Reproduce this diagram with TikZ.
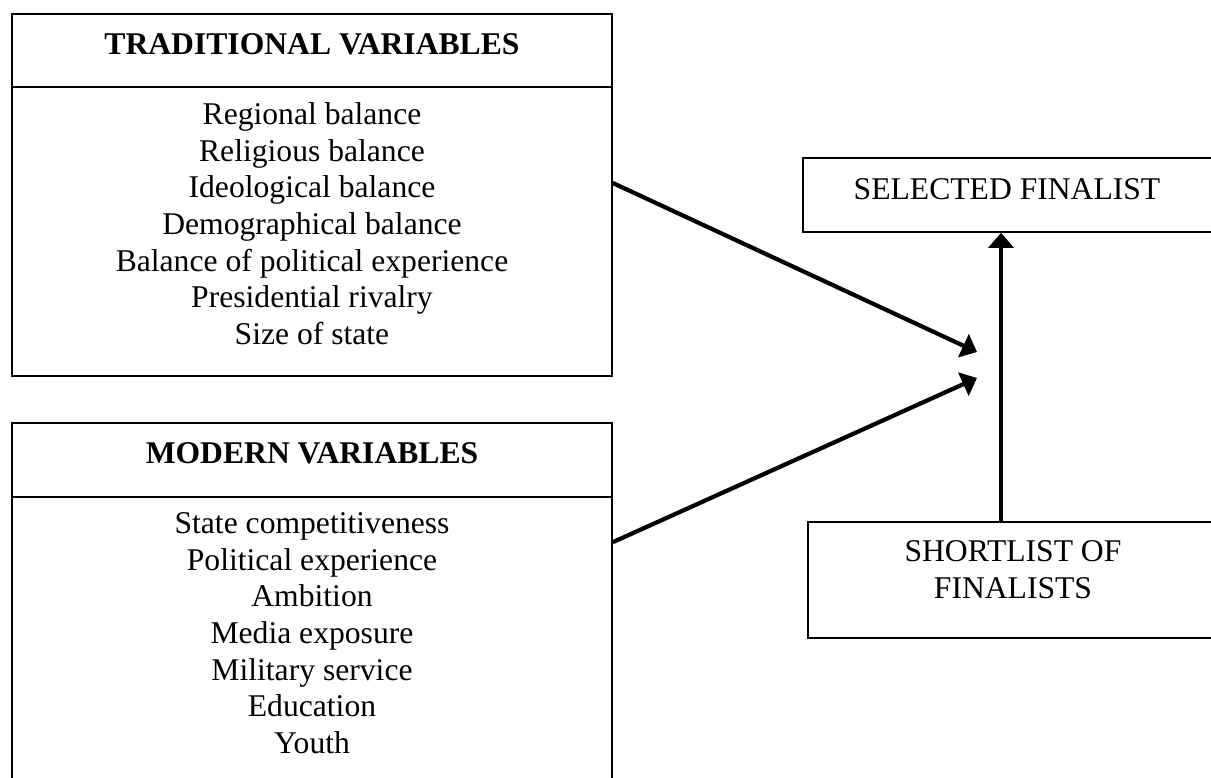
\documentclass[tikz,border=0pt]{standalone}
\usepackage{fontspec}
\setmainfont{Liberation Serif}
\usetikzlibrary{arrows.meta,calc}

\tikzset{
	box/.style={draw, line width=0.95pt, inner sep=0pt},
	words/.style={font=\fontsize{18}{20.87}\selectfont, inner sep=0pt, align=center},
	link/.style={line width=2.4pt, -{Triangle[length=0.3cm,width=0.5cm]}}
}

\begin{document}
\begin{tikzpicture}[x=0.02cm,y=0.02cm]

	\useasboundingbox (0,0) rectangle (1211,778);

	% the two groups of variables
	\node[box, minimum width=12cm, minimum height=7.24cm] (trad) at (312,583) {};
	\node[box, minimum width=12cm, minimum height=7.3cm] (modern) at (312,172.5) {};
	\draw[line width=0.95pt] (trad.west |- 0,691) -- (trad.east |- 0,691);
	\draw[line width=0.95pt] (modern.west |- 0,281) -- (modern.east |- 0,281);

	\node[words, anchor=base, font=\fontsize{18}{20.87}\selectfont\bfseries] (tradhead) at (312,723.5) {TRADITIONAL VARIABLES};
	\node[words, anchor=north] (tradlist) at (312,675.7) {Regional balance\\ Religious balance\\ Ideological balance\\ Demographical balance\\ Balance of political experience\\ Presidential rivalry\\ Size of state};

	\node[words, anchor=base, font=\fontsize{18}{20.87}\selectfont\bfseries] (modhead) at (312,314.7) {MODERN VARIABLES};
	\node[words, anchor=north] (modlist) at (312,265.7) {State competitiveness\\ Political experience\\ Ambition\\ Media exposure\\ Military service\\ Education\\ Youth};

	% right hand side
	\node[box, minimum width=8.2cm, minimum height=1.48cm] (selected) at (1008,583) {};
	\node[words, anchor=base] (seltext) at (1007,578) {SELECTED FINALIST};
	\node[box, minimum width=8.1cm, minimum height=2.32cm] (shortlist) at (1010.5,198) {};
	\node[words, anchor=north] (shorttext) at (1013,237.8) {SHORTLIST OF\\ FINALISTS};

	\coordinate (in1) at (977,426);
	\coordinate (in2) at (977,400);
	\coordinate (va) at (1001,0);

	\draw[link] ($(trad.east)+(0,12)$) -- (in1);
	\draw[link] ($(modern.north east)+(0,-120)$) -- (in2);
	\draw[link] (va |- shortlist.north) -- (va |- selected.south);

\end{tikzpicture}
\end{document}
